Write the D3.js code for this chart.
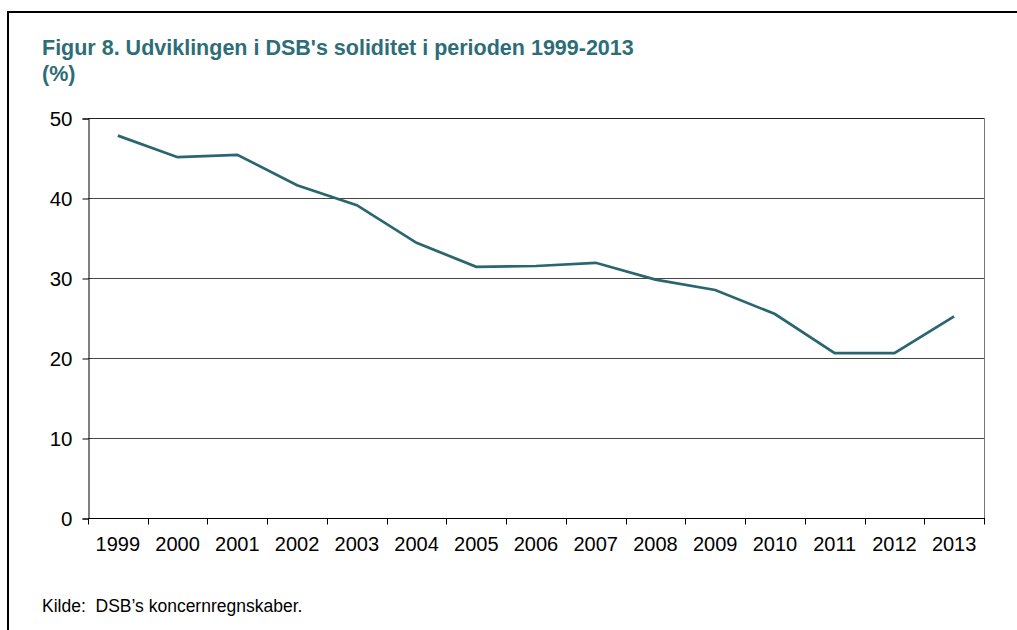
<!DOCTYPE html>
<html>
<head>
<meta charset="utf-8">
<script src="https://cdn.jsdelivr.net/npm/d3@7"></script>
<style>
  body { margin: 0; background: #fff; }
  text { font-family: "Liberation Sans", Arial, sans-serif; }
</style>
</head>
<body>
<div id="chart"></div>
<script>
// Data
const years = ["1999", "2000", "2001", "2002", "2003", "2004", "2005", "2006",
               "2007", "2008", "2009", "2010", "2011", "2012", "2013"];
const soliditet = [47.8, 45.1, 45.4, 41.6, 39.1, 34.4, 31.4, 31.5,
                   31.9, 29.8, 28.5, 25.5, 20.6, 20.6, 25.2];
const yTicks = [0, 10, 20, 30, 40, 50];

const width = 1017;
const height = 630;
const plot = { left: 88, right: 984, top: 118, bottom: 518 };

const svg = d3.select("#chart")
    .append("svg")
    .attr("width", width)
    .attr("height", height);

// outer frame (top + left only)
svg.append("line")
    .attr("x1", 8).attr("x2", width)
    .attr("y1", 12).attr("y2", 12)
    .attr("stroke", "#000").attr("stroke-width", 2);
svg.append("line")
    .attr("x1", 8).attr("x2", 8)
    .attr("y1", 11).attr("y2", height)
    .attr("stroke", "#000").attr("stroke-width", 2);

// title
const title = svg.append("text")
    .attr("x", 42).attr("y", 55)
    .attr("fill", "#2d6d77")
    .attr("font-weight", "bold")
    .attr("font-size", 21.5);
title.append("tspan").attr("x", 42).text("Figur 8. Udviklingen i DSB's soliditet i perioden 1999-2013");
title.append("tspan").attr("x", 42).attr("dy", 26).text("(%)");

// scales
const x = d3.scaleBand()
    .domain(years)
    .range([plot.left, plot.right]);

const y = d3.scaleLinear()
    .domain([0, 50])
    .range([plot.bottom, plot.top]);

// gridlines
svg.append("g")
    .selectAll("line")
    .data(yTicks.filter(d => d > 0 && d < 50))
    .join("line")
    .attr("x1", plot.left).attr("x2", plot.right)
    .attr("y1", d => y(d) + 0.5).attr("y2", d => y(d) + 0.5)
    .attr("stroke", "#444").attr("stroke-width", 1);

// frame top and right
svg.append("line")
    .attr("x1", plot.left).attr("x2", plot.right + 1)
    .attr("y1", y(50) + 0.5).attr("y2", y(50) + 0.5)
    .attr("stroke", "#222");
svg.append("line")
    .attr("x1", plot.right + 0.5).attr("x2", plot.right + 0.5)
    .attr("y1", y(50)).attr("y2", y(0) + 6)
    .attr("stroke", "#777");

// y axis
const yAxis = svg.append("g")
    .attr("transform", `translate(${plot.left + 0.5},0.5)`)
    .call(d3.axisLeft(y).tickValues(yTicks).tickSize(6).tickPadding(10));
yAxis.select(".domain").attr("stroke", "#000");
yAxis.selectAll(".tick line").attr("stroke", "#000");
yAxis.selectAll("text")
    .attr("font-size", 20.5)
    .attr("fill", "#000")
    .style("font-family", "'Liberation Sans', Arial, sans-serif");

// x axis - ticks at band edges
const xAxis = svg.append("g")
    .attr("transform", `translate(0,${plot.bottom + 0.5})`);
xAxis.append("line")
    .attr("x1", plot.left).attr("x2", plot.right + 1)
    .attr("stroke", "#000");
xAxis.selectAll(".edge")
    .data(years.concat(["end"]))
    .join("line")
    .attr("class", "edge")
    .attr("x1", (d, i) => Math.round(plot.left + i * x.step()) + 0.5)
    .attr("x2", (d, i) => Math.round(plot.left + i * x.step()) + 0.5)
    .attr("y1", 0).attr("y2", 6)
    .attr("stroke", "#000");
xAxis.selectAll(".lbl")
    .data(years)
    .join("text")
    .attr("class", "lbl")
    .attr("x", d => x(d) + x.bandwidth() / 2)
    .attr("y", 32)
    .attr("text-anchor", "middle")
    .attr("font-size", 20)
    .attr("fill", "#000")
    .text(d => d);

// line
const line = d3.line()
    .x((d, i) => x(years[i]) + x.bandwidth() / 2)
    .y(d => y(d));

svg.append("path")
    .datum(soliditet)
    .attr("d", line)
    .attr("fill", "none")
    .attr("stroke", "#2a6670")
    .attr("stroke-width", 2.75);

// source
svg.append("text")
    .attr("x", 42).attr("y", 612)
    .attr("font-size", 17.5)
    .attr("fill", "#000")
    .style("white-space", "pre")
    .text("Kilde:  DSB\u2019s koncernregnskaber.");
</script>
</body>
</html>
